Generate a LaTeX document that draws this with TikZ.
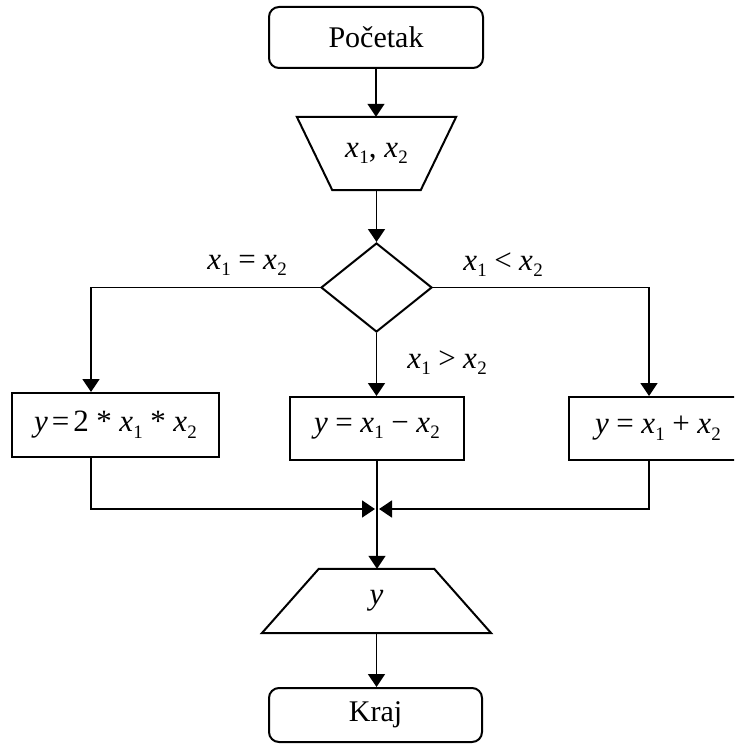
\documentclass[tikz,border=0pt]{standalone}
\usepackage{fontspec}
\setmainfont{Liberation Serif}
\usetikzlibrary{shapes.geometric,arrows.meta}
% italic variable with a lowered index
\newcommand{\vx}[1]{\textit{x}\kern0.01em\raisebox{-0.2em}{\fontsize{19}{19}\selectfont #1}}
\newcommand{\vy}{\textit{y}}
\newcommand{\op}[1]{\hspace{0.24em}#1\hspace{0.24em}}
\newcommand{\tightop}[1]{\hspace{0.13em}#1\hspace{0.13em}}
\begin{document}
\begin{tikzpicture}[x=1pt,y=-1pt,
  txt/.style={font=\fontsize{30}{36}\selectfont, inner sep=0pt},
  mth/.style={font=\fontsize{31}{36}\selectfont, inner sep=0pt},
  border/.style={draw, line width=2pt, line join=miter},
  terminal/.style={txt, border, rectangle, rounded corners=10pt},
  procbox/.style={mth, border, rectangle},
  decision/.style={border, diamond, inner sep=0pt, aspect=1.25},
  flow/.style={line width=1.5pt, -{Triangle[length=13pt,width=17pt]}},
  link/.style={line width=1.5pt}]
  \useasboundingbox (0,0) rectangle (734,746);
  \clip (0,0) rectangle (734,746);

  % terminals
  \node[terminal, minimum width=214pt, minimum height=61pt] (start) at (376,37.5) {Početak};
  \node[terminal, minimum width=213pt, minimum height=54pt] (end) at (375.5,715) {Kraj};

  % input block (trapezoid, wide side up)
  \node[mth, minimum width=159pt, minimum height=73pt] (inp) at (376.5,153.5) {\vx{1}, \vx{2}};
  \draw[border] (inp.north west) -- (inp.north east)
    -- ([xshift=-35.5pt]inp.south east) -- ([xshift=35.5pt]inp.south west) -- cycle;

  % decision
  \node[decision, minimum width=111pt, minimum height=89pt] (dia) at (376.5,287.5) {};

  % processing boxes
  \node[procbox, minimum width=207pt, minimum height=64pt] (b1) at (115.5,425) {\vy\tightop{=}2\op{*}\vx{1}\op{*}\vx{2}};
  \node[procbox, minimum width=174pt, minimum height=63pt] (b2) at (377,428.5) {\vy\op{=}\vx{1}\op{−}\vx{2}};
  \node[procbox, minimum width=178pt, minimum height=63pt] (b3) at (658,428.5) {\vy\op{=}\vx{1}\op{+}\vx{2}};

  % output block (trapezoid, wide side down)
  \node[mth, minimum width=229pt, minimum height=64pt] (outp) at (376.5,601) {\vy};
  \draw[border] ([xshift=57pt]outp.north west) -- ([xshift=-57pt]outp.north east)
    -- (outp.south east) -- (outp.south west) -- cycle;

  % branch labels
  \node[mth] (l1) at (247,265) {\vx{1}\op{=}\vx{2}};
  \node[mth] (l2) at (503,265) {\vx{1}\op{<}\vx{2}};
  \node[mth] (l3) at (447,363) {\vx{1}\op{>}\vx{2}};

  % junction of the three branches
  \coordinate (m) at (377,509);

  % connectors
  \draw[flow] (start.south) -- (start.south |- inp.north);
  \draw[flow] (inp.south) -- (inp.south |- dia.north);
  \draw[flow] (dia.west) -| ([xshift=-24.5pt]b1.north);
  \draw[flow] (dia.east) -| ([xshift=-9pt]b3.north);
  \draw[flow] (dia.south) -- (dia.south |- b2.north);
  \draw[flow] ([xshift=-24.5pt]b1.south) |- ([xshift=-2pt]m);
  \draw[flow] ([xshift=-9pt]b3.south) |- ([xshift=2pt]m);
  \draw[flow] (b2.south) -- (b2.south |- outp.north);
  \draw[flow] (outp.south) -- (outp.south |- end.north);
\end{tikzpicture}
\end{document}
